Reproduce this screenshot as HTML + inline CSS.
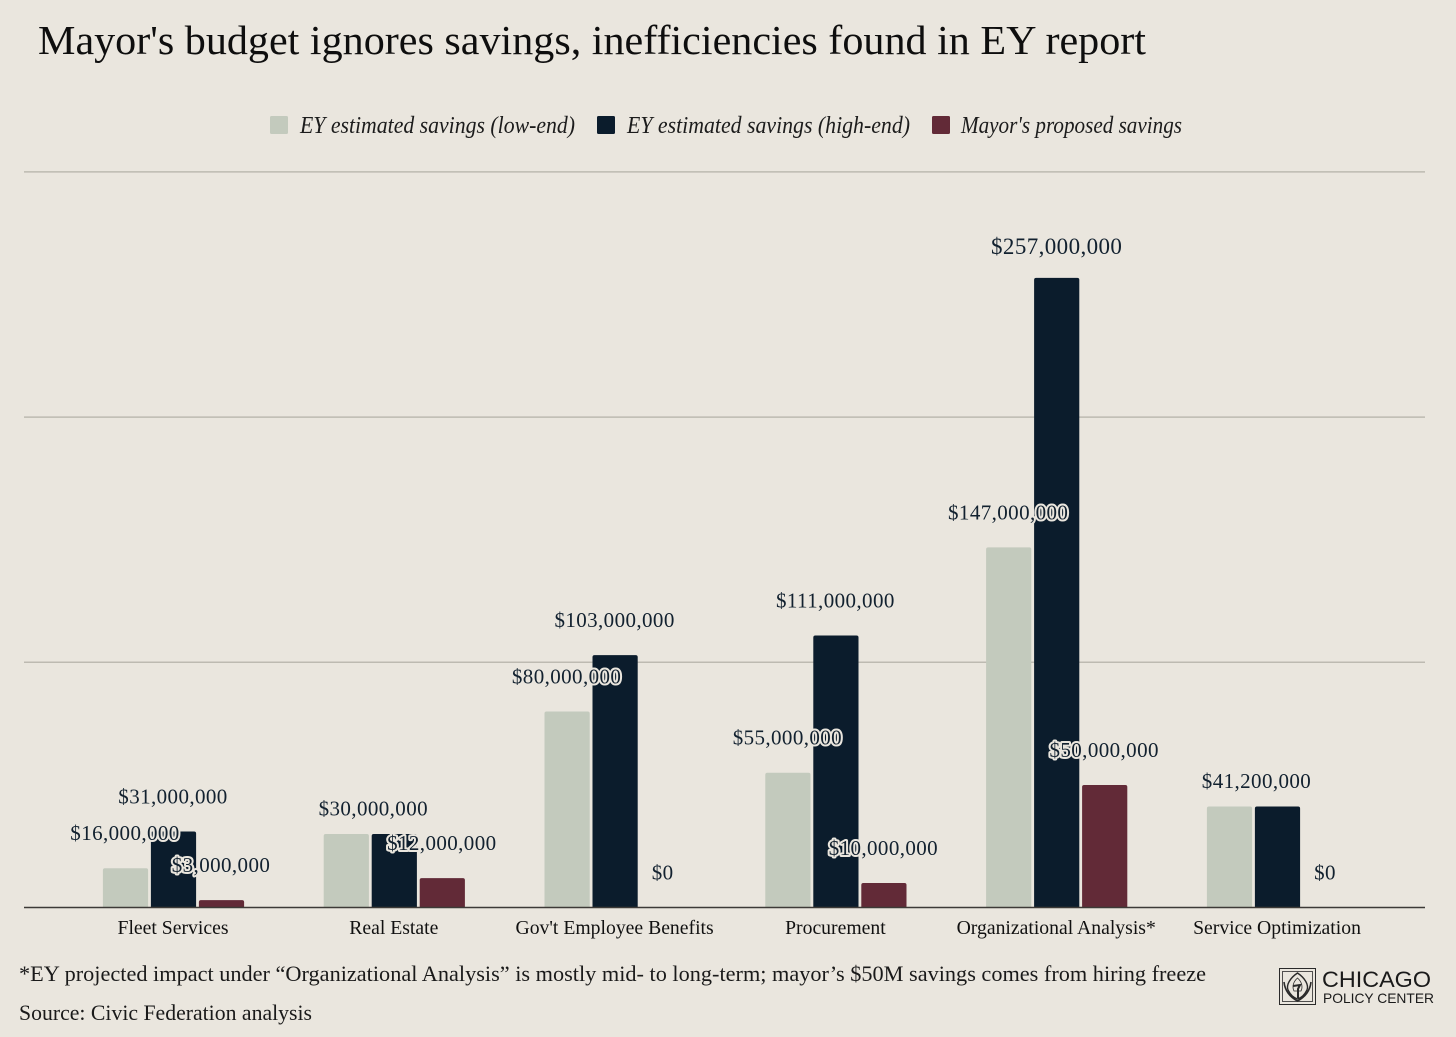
<!DOCTYPE html>
<html lang="en">
<head>
<meta charset="utf-8">
<title>Mayor's budget ignores savings</title>
<style>
html,body{margin:0;padding:0;background:#eae6de;}
svg{display:block;font-family:"Liberation Serif",serif;}
</style>
</head>
<body>
<svg id="chart" xmlns="http://www.w3.org/2000/svg" width="1456" height="1037" viewBox="0 0 1456 1037">
  <rect width="1456" height="1037" fill="#eae6de"/>
  <text x="38" y="54" font-size="41" fill="#0e0e0e" textLength="1108" lengthAdjust="spacingAndGlyphs">Mayor's budget ignores savings, inefficiencies found in EY report</text>

  <g font-size="24" font-style="italic" fill="#1c1c1c">
    <g>
      <rect x="270" y="116" width="18" height="18" rx="1.5" fill="#c3cabd"/>
      <text x="300" y="133" textLength="275" lengthAdjust="spacingAndGlyphs">EY estimated savings (low-end)</text>
    </g>
    <g>
      <rect x="597" y="116" width="18" height="18" rx="1.5" fill="#0b1c2c"/>
      <text x="627" y="133" textLength="283" lengthAdjust="spacingAndGlyphs">EY estimated savings (high-end)</text>
    </g>
    <g>
      <rect x="932" y="116" width="18" height="18" rx="1.5" fill="#622a37"/>
      <text x="961" y="133" textLength="221" lengthAdjust="spacingAndGlyphs">Mayor's proposed savings</text>
    </g>
  </g>

  <g id="grid"></g>
  <g id="bars"></g>
  <line x1="24" x2="1425" y1="907.5" y2="907.5" stroke="#3d3a37" stroke-width="1.6"/>
  <g id="cats"></g>
  <g id="labels"></g>

  <text x="19" y="981" font-size="22" fill="#1a1a1a" textLength="1187" lengthAdjust="spacingAndGlyphs">*EY projected impact under “Organizational Analysis” is mostly mid- to long-term; mayor’s $50M savings comes from hiring freeze</text>
  <text x="19" y="1020" font-size="22" fill="#1a1a1a" textLength="293" lengthAdjust="spacingAndGlyphs">Source: Civic Federation analysis</text>

  <g>
    <g fill="none" stroke="#2a2a2a">
      <rect x="1279.5" y="968.5" width="36" height="36" stroke-width="1"/>
      <rect x="1282.5" y="971.5" width="30" height="30" stroke-width="0.8"/>
      <path d="M1297.5 973 C1290 978 1286 985 1288 990 C1291 996 1294 998 1297.5 999 C1301 998 1304 996 1307 990 C1309 985 1305 978 1297.5 973 Z" stroke-width="1.4"/>
      <path d="M1284 982 C1285 991 1290 997 1297.5 1001 C1305 997 1310 991 1311 982" stroke-width="1.6"/>
      <path d="M1297.5 978 C1293 982 1292 987 1294 991 L1301 991 C1303 987 1302 982 1297.5 978 Z" stroke-width="0.8"/>
      <path d="M1293 986 L1300 985 L1298 989 L1298 998" stroke-width="2"/>
    </g>
    <text x="1322" y="987" font-family="Liberation Sans, sans-serif" font-size="22" fill="#1a1a1a" textLength="109" lengthAdjust="spacingAndGlyphs">CHICAGO</text>
    <text x="1323" y="1003" font-family="Liberation Sans, sans-serif" font-size="14" fill="#1a1a1a" textLength="111" lengthAdjust="spacingAndGlyphs">POLICY CENTER</text>
  </g>
</svg>

<script>
const categories = ["Fleet Services", "Real Estate", "Gov't Employee Benefits", "Procurement", "Organizational Analysis*", "Service Optimization"];
const lowEnd = [16000000, 30000000, 80000000, 55000000, 147000000, 41200000];
const highEnd = [31000000, 30000000, 103000000, 111000000, 257000000, 41200000];
const mayorProposed = [3000000, 12000000, 0, 10000000, 50000000, 0];
const gridValues = [100000000, 200000000, 300000000];
const seriesNames = ["low-end", "high-end", "mayor"];

const NS = "http://www.w3.org/2000/svg";
const series = [lowEnd, highEnd, mayorProposed];
const colors = ["#c3cabd", "#0b1c2c", "#622a37"];
const maxValue = Math.max(...lowEnd, ...highEnd, ...mayorProposed);

function yScale(v) { return 907.5 - v * 2.45e-6; }
function groupX(i) { return 173.5 + i * 220.8; }
function barCenter(i, s) { return groupX(i) + (s - 1) * 48; }
function money(v) { return "$" + v.toLocaleString("en-US"); }
function make(tag, parent) {
  const el = document.createElementNS(NS, tag);
  parent.appendChild(el);
  return el;
}

const gridG = document.getElementById("grid");
gridValues.forEach(function (v) {
  const line = make("line", gridG);
  
  
  line.setAttribute("x1", 24);
  line.setAttribute("x2", 1425);
  line.setAttribute("y1", 907.5 - v * 2.452e-6);
  line.setAttribute("y2", 907.5 - v * 2.452e-6);
  line.setAttribute("stroke", "#bdbab1");
  line.setAttribute("stroke-width", 1.5);
});

const barsG = document.getElementById("bars");
series.forEach(function (vals, s) {
  vals.forEach(function (v, i) {
    if (v <= 0) return;
    const r = make("path", barsG);
    const x0 = barCenter(i, s) - 22.6;
    const x1 = barCenter(i, s) + 22.6;
    const top = yScale(v);
    const base = yScale(0);
    
    
    r.setAttribute("d", "M" + x0 + " " + base + "V" + (top + 2) + "Q" + x0 + " " + top + " " + (x0 + 2) + " " + top +
      "H" + (x1 - 2) + "Q" + x1 + " " + top + " " + x1 + " " + (top + 2) + "V" + base + "Z");
    r.setAttribute("fill", colors[s]);
  });
});

const catsG = document.getElementById("cats");
categories.forEach(function (c, i) {
  const t = make("text", catsG);
  
  
  t.setAttribute("x", groupX(i) - 0.5);
  t.setAttribute("y", 934);
  t.setAttribute("text-anchor", "middle");
  t.setAttribute("font-size", 19.7);
  t.setAttribute("fill", "#111111");
  t.textContent = c;
});

const labelsG = document.getElementById("labels");
function addLabel(text, x, centerY, size) {
  const t = make("text", labelsG);
  
  
  t.setAttribute("x", x);
  t.setAttribute("y", centerY + size * 0.33);
  t.setAttribute("text-anchor", "middle");
  t.setAttribute("font-size", size);
  t.setAttribute("letter-spacing", 0.4);
  t.setAttribute("fill", "#12212f");
  t.setAttribute("stroke", "#eae6de");
  t.setAttribute("stroke-width", 4);
  t.setAttribute("stroke-linejoin", "round");
  t.setAttribute("paint-order", "stroke");
  t.textContent = text;
}
series.forEach(function (vals, s) {
  vals.forEach(function (v, i) {
    const merged = lowEnd[i] === highEnd[i];
    if (merged && s === 1) return;
    if (merged && s === 0) {
      addLabel(money(v), (barCenter(i, 0) + barCenter(i, 1)) / 2 + 3, yScale(v) - 25.5, 21);
    } else if (v === maxValue) {
      addLabel(money(v), barCenter(i, s), yScale(v) - 31.5, 23);
    } else {
      addLabel(money(v), barCenter(i, s) - 0.5, yScale(v) - 35, 21);
    }
  });
});
</script>
</body>
</html>
